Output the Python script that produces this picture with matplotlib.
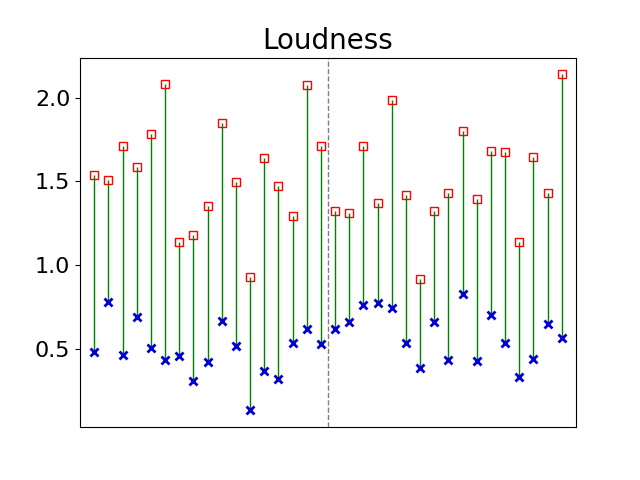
import matplotlib
matplotlib.use("Agg")
import matplotlib.pyplot as plt
import numpy as np

title = "Loudness"
high = [1.538, 1.508, 1.713, 1.586, 1.781, 2.080, 1.138, 1.183, 1.353, 1.849,
        1.496, 0.932, 1.637, 1.472, 1.295, 2.072, 1.709,
        1.323, 1.311, 1.713, 1.373, 1.988, 1.416, 0.917, 1.323, 1.430,
        1.801, 1.397, 1.682, 1.676, 1.141, 1.646, 1.430, 2.138]
low = [0.482, 0.779, 0.464, 0.689, 0.506, 0.432, 0.456, 0.309, 0.422, 0.666,
       0.516, 0.134, 0.367, 0.323, 0.534, 0.618, 0.530,
       0.618, 0.660, 0.763, 0.773, 0.743, 0.534, 0.384, 0.660, 0.432,
       0.827, 0.426, 0.703, 0.534, 0.331, 0.438, 0.648, 0.564]
split_after = 17

fig, ax = plt.subplots(figsize=(6.4, 4.8), dpi=100)
x = np.arange(len(high))
ax.vlines(x, low, high, colors="green", linewidth=1)
ax.plot(x, high, "s", markerfacecolor="none", markeredgecolor="red", markersize=6)
ax.plot(x, low, "x", color="#0000cc", markersize=6, markeredgewidth=2)
ax.axvline(split_after - 0.5, color="grey", linestyle="--", linewidth=1)
ax.set_xlim(-1, len(high))
ax.set_xticks([])
ax.tick_params(axis="y", labelsize=16)
ax.set_title(title, fontsize=20)
fig.savefig("out.png", dpi=100)
